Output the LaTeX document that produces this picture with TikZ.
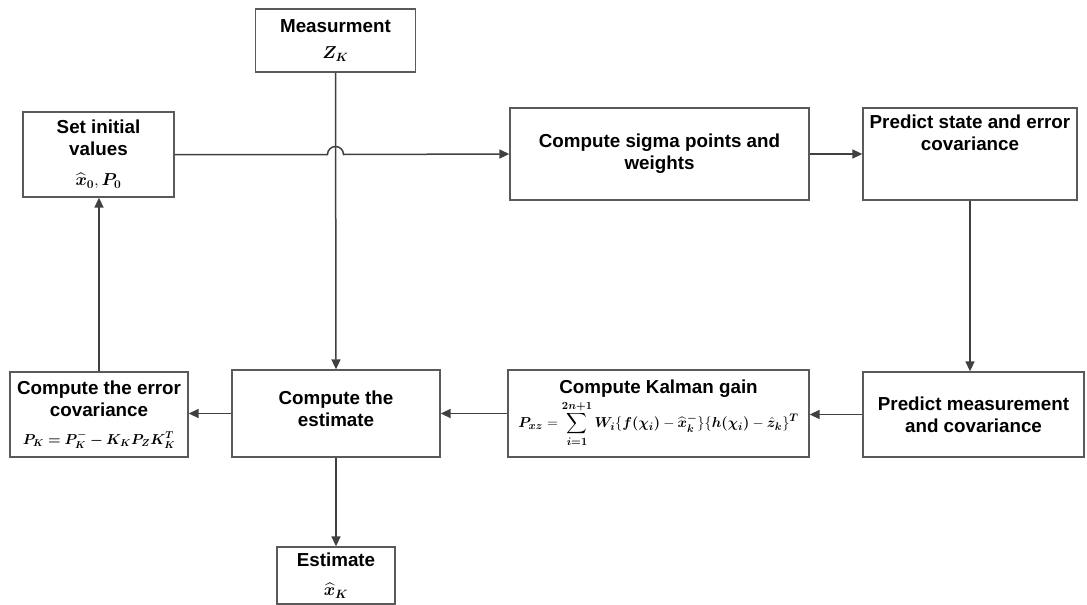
\documentclass[tikz,border=0pt]{standalone}
\usepackage[no-math]{fontspec}
\setmainfont{Liberation Sans}
\usepackage{amsmath,bm}
\usetikzlibrary{arrows.meta}
\definecolor{linegray}{HTML}{404040}
\definecolor{boxgray}{HTML}{5A5A5A}
\newcommand{\eqsize}[1]{\fontsize{#1}{#1}\selectfont}
\begin{document}
\begin{tikzpicture}[
    x=1pt, y=1pt,
    box/.style={draw=boxgray, line width=1.3pt, fill=white, align=center, inner sep=2pt,
        font=\fontsize{18.8}{22}\selectfont\bfseries},
    flow/.style={draw=linegray, line width=1.5pt, -{Triangle[length=10pt,width=9pt]}}
]
\useasboundingbox (0,0) rectangle (1087,-605);

% blocks
\node[box, minimum width=160pt, minimum height=63pt] (meas) at (335.5,-40.5) {Measurment\\[4pt]$\bm{Z_K}$};
\node[box, minimum width=151pt, minimum height=85pt] (init) at (98.5,-154.5) {Set initial\\values\\[8pt]$\widehat{\bm x}_{\bm 0},\bm{P_0}$};
\node[box, minimum width=299pt, minimum height=92pt] (sigma) at (659.5,-154) {Compute sigma points and\\weights};
\node[box, minimum width=214pt, minimum height=92pt, text depth=42pt] (pstate) at (970,-154) {Predict state and error\\covariance};
\node[box, minimum width=221pt, minimum height=85pt] (pmeas) at (973.5,-414.5) {Predict measurement\\and covariance};
\node[box, minimum width=301pt, minimum height=87pt, inner sep=0pt] (gain) at (658.5,-413.5) {Compute Kalman gain\\[2pt]{\eqsize{15.5}$\displaystyle \bm{P_{xz}} = \sum_{\bm{i=1}}^{\bm{2n+1}} \bm{W_i}\{\bm{f(\chi_i)} - \widehat{\bm x}_{\bm k}^{\bm -}\}\{\bm{h(\chi_i)} - \hat{\bm z}_{\bm k}\}^{\bm T}$}};
\node[box, minimum width=208pt, minimum height=87pt, text depth=9pt] (est) at (336,-413.5) {Compute the\\estimate};
\node[box, minimum width=178pt, minimum height=85pt] (errcov) at (99,-414.5) {Compute the error\\covariance\\[6pt]{\eqsize{14}$\bm{P_K = P_K^- - K_K P_Z K_K^T}$}};
\node[box, minimum width=118pt, minimum height=57pt] (estimate) at (336,-575.5) {Estimate\\[7pt]$\widehat{\bm x}_{\bm K}$};

% connectors
\draw[flow] (init.east) -- ([xshift=-8pt]meas.south |- init.east) arc[start angle=180, end angle=0, radius=8pt] -- (sigma.west);
\draw[flow] (meas.south) -- (est.north);
\draw[flow] (sigma.east) -- (pstate.west);
\draw[flow] (pstate.south) -- (pstate.south |- pmeas.north);
\draw[flow] (pmeas.west) -- (pmeas.west -| gain.east);
\draw[flow] (gain.west) -- (gain.west -| est.east);
\draw[flow] (est.west) -- (est.west -| errcov.east);
\draw[flow] (errcov.north) -- (errcov.north |- init.south);
\draw[flow] (est.south) -- (estimate.north);

\end{tikzpicture}
\end{document}
